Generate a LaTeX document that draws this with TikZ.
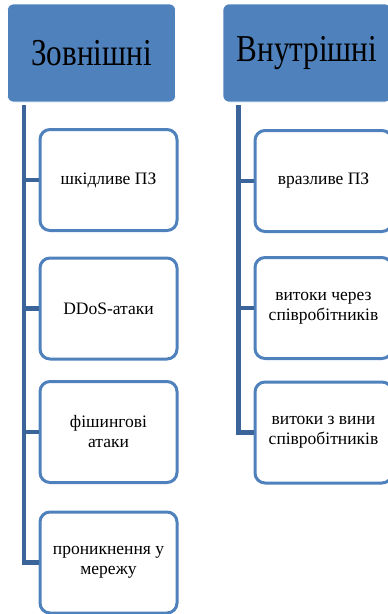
\documentclass[tikz,border=0pt]{standalone}
\usepackage{fontspec}
\setmainfont{Liberation Serif}
\newfontfamily\timesx{Liberation Serif}
\definecolor{hdrblue}{HTML}{4F81BD}
\definecolor{connblue}{HTML}{3B659A}
\begin{document}
\begin{tikzpicture}[x=1pt,y=-1pt,
  hdr/.style={fill=hdrblue, draw=white, line width=0.6pt, rounded corners=6pt,
    minimum width=168pt, minimum height=98pt, inner sep=0pt,
    font=\timesx\fontsize{38}{40}\selectfont, text=black},
  child/.style={fill=white, draw=hdrblue, line width=3pt, rounded corners=10pt,
    minimum width=137pt, minimum height=101pt, inner sep=0pt, align=center,
    font=\timesx\fontsize{17.5}{20}\selectfont, text=black},
  conn/.style={draw=connblue, line width=4.5pt}]
\useasboundingbox (0,0) rectangle (388,614);
\clip (0,0) rectangle (388,614);
% left column
\node[hdr] (lh) at (91.5,53) {\scalebox{0.82}[1]{Зовнішні}};
\node[child] (l1) at (108.5,180) {шкідливе ПЗ};
\node[child] (l2) at (108.5,308.5) {DDoS-атаки};
\node[child] (l3) at (108.5,432) {фішингові\\атаки};
\node[child] (l4) at (108.5,562.5) {проникнення у\\мережу};
\coordinate (lt) at (24,105);
\draw[conn] (lt) |- (l4.west);
\draw[conn] (lt) |- (l1.west);
\draw[conn] (lt) |- (l2.west);
\draw[conn] (lt) |- (l3.west);
% right column
\node[hdr] (rh) at (307,53) {\scalebox{0.82}[1]{Внутрішні}};
\node[child] (r1) at (323.5,181) {вразливе ПЗ};
\node[child] (r2) at (323.5,308) {витоки через\\співробітників};
\node[child] (r3) at (323.5,432.5) {витоки з вини\\співробітників};
\coordinate (rt) at (238.5,105);
\draw[conn] (rt) |- (r3.west);
\draw[conn] (rt) |- (r1.west);
\draw[conn] (rt) |- (r2.west);
\end{tikzpicture}
\end{document}
